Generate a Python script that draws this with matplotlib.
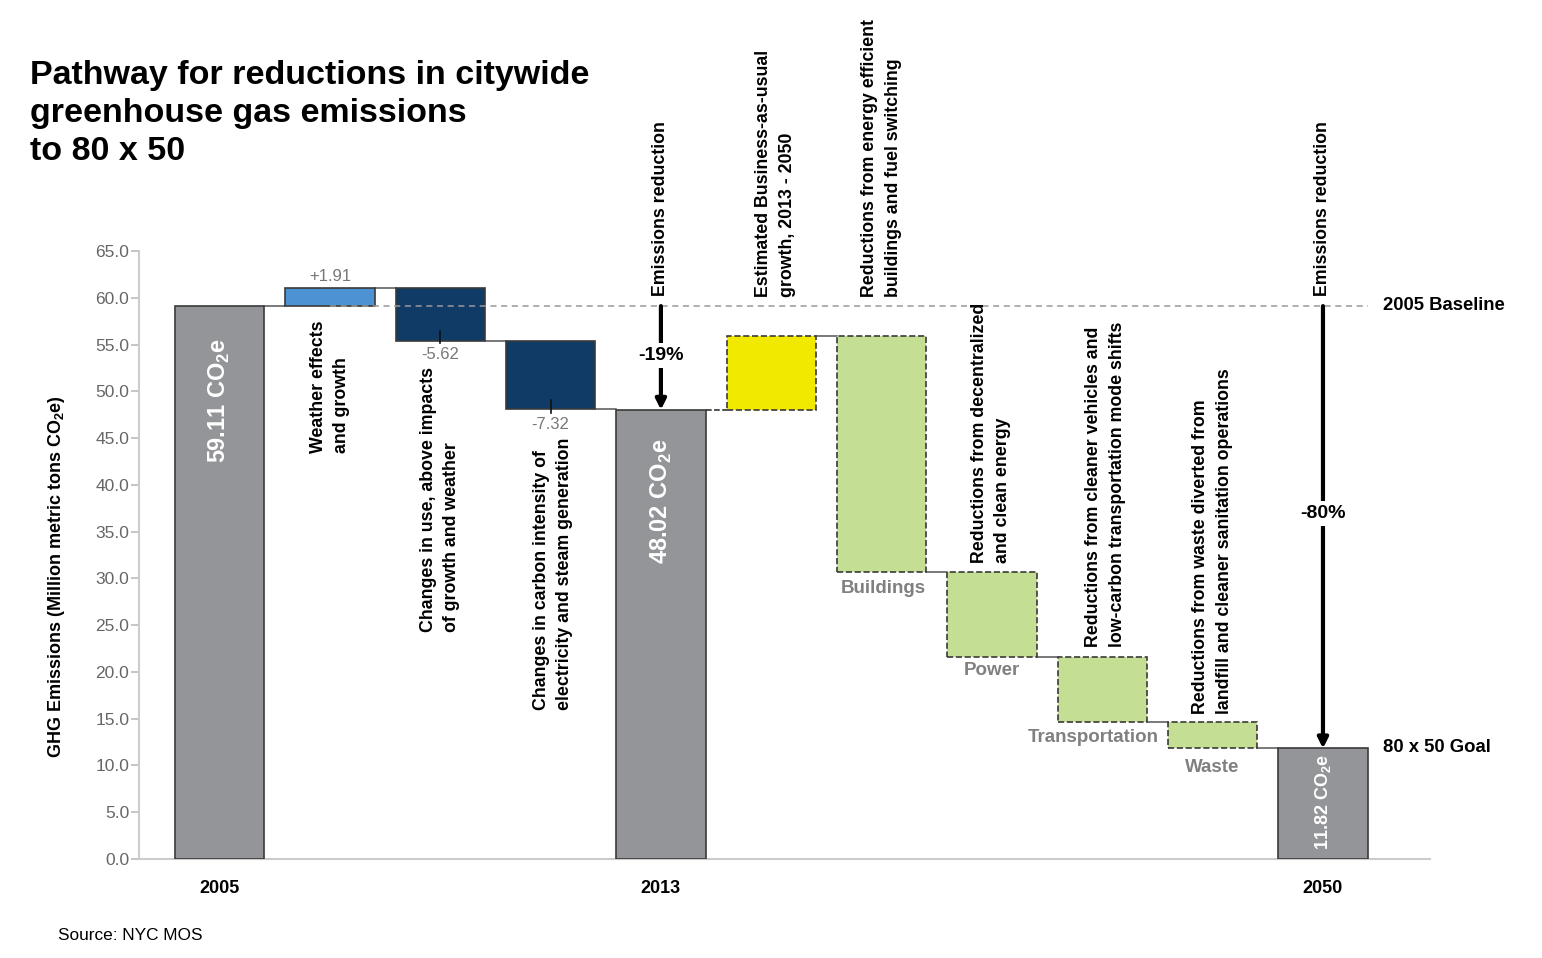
import matplotlib
matplotlib.use("Agg")
import matplotlib.pyplot as plt

plt.rcParams['font.family'] = ['Liberation Sans', 'DejaVu Sans']
plt.rcParams['mathtext.fontset'] = 'custom'
plt.rcParams['mathtext.rm'] = 'Liberation Sans'
plt.rcParams['mathtext.bf'] = 'Liberation Sans:bold'

# ---- data ----
categories = ['2005', 'Weather', 'Use changes', 'Carbon intensity', '2013',
              'BAU growth', 'Buildings', 'Power', 'Transportation', 'Waste', '2050']
values = [59.11, 1.91, -5.62, -7.32, 48.02, 7.93, -25.27, -9.08, -7.00, -2.78, 11.82]
is_total = [True, False, False, False, True, False, False, False, False, False, True]
year_labels = ['2005', '2013', '2050']
year_positions = [0, 4, 10]
value_labels = ['+1.91', '-5.62', '-7.32']
sector_labels = ['Buildings', 'Power', 'Transportation', 'Waste']
baseline = 59.11
goal = 11.82
yticks = [0, 5, 10, 15, 20, 25, 30, 35, 40, 45, 50, 55, 60, 65]

colors = ['#939598', '#4d92d2', '#0f3b66', '#0f3b66', '#939598',
          '#f2e900', '#c4df94', '#c4df94', '#c4df94', '#c4df94', '#939598']
dashed = [False, False, False, False, False, True, True, True, True, True, False]

fig = plt.figure(figsize=(15.42, 9.58), dpi=100)
ax = fig.add_axes([139/1542, 1-859/958, (1430-139)/1542, 608/958])

# compute waterfall
bottoms, tops, levels = [], [], []
running = 0.0
for v, t in zip(values, is_total):
    if t:
        b, tp = 0.0, v
        running = v
    else:
        start = running
        running = running + v
        b, tp = min(start, running), max(start, running)
    bottoms.append(b)
    tops.append(tp)
    levels.append(running)

w = 0.81
for i in range(len(values)):
    ax.bar(i, tops[i]-bottoms[i], bottom=bottoms[i], width=w, color=colors[i],
           edgecolor='#3a3a3a', linewidth=1.2,
           linestyle='--' if dashed[i] else '-', zorder=3)

# connectors
for i in range(len(values)-1):
    lvl = levels[i]
    ls = '--' if i == 4 else '-'
    col = '#222222' if i == 4 else '#555555'
    ax.plot([i + w/2, i + 1 - w/2], [lvl, lvl], color=col, lw=1.1, ls=ls, zorder=2)

# baseline dashed line
ax.plot([1.0, 10 + w/2], [baseline, baseline], color='#999999', lw=1.1,
        ls=(0, (4, 3)), zorder=4)

ax.set_xlim(-0.73, 10.97)
ax.set_ylim(0, 65)
ax.set_yticks(yticks)
ax.set_yticklabels([f'{t:.1f}' for t in yticks], color='#666666', fontsize=12.5)
ax.tick_params(axis='y', colors='#bbbbbb', length=6, width=1.2, pad=1, labelcolor='#666666')
ax.set_xticks(year_positions)
ax.set_xticklabels(year_labels, fontsize=13, fontweight='bold')
ax.tick_params(axis='x', length=0, pad=15)
for s in ['top', 'right']:
    ax.spines[s].set_visible(False)
ax.spines['left'].set_color('#cccccc')
ax.spines['left'].set_linewidth(1.5)
ax.spines['bottom'].set_color('#cccccc')
ax.spines['bottom'].set_linewidth(1.5)

# value labels
ax.text(1, 62.3, value_labels[0], ha='center', va='center', color='#777777', fontsize=12)
ax.plot([2, 2], [56.5, 55.2], color='#111111', lw=1.2, zorder=5)
ax.text(2, 53.9, value_labels[1], ha='center', va='center', color='#777777', fontsize=12)
ax.plot([3, 3], [49.1, 47.7], color='#111111', lw=1.2, zorder=5)
ax.text(3, 46.5, value_labels[2], ha='center', va='center', color='#777777', fontsize=12)

# bar inner labels
ax.text(0, 49.0, r'59.11 CO$_\mathbf{2}$e', rotation=90, ha='center', va='center',
        color='white', fontsize=17, fontweight='bold', zorder=6)
ax.text(4, 38.2, r'48.02 CO$_\mathbf{2}$e', rotation=90, ha='center', va='center',
        color='white', fontsize=17, fontweight='bold', zorder=6)
ax.text(10, 6.1, r'11.82 CO$_\mathbf{2}$e', rotation=90, ha='center', va='center',
        color='white', fontsize=13, fontweight='bold', zorder=6)

# sector labels
sector_pos = [(6.02, 28.9), (7.0, 20.1), (7.92, 13.0), (9.0, 9.8)]
for lab, (x, y) in zip(sector_labels, sector_pos):
    ax.text(x, y, lab, ha='center', va='center', color='#808080', fontsize=13.5,
            fontweight='bold')

# rotated descriptions
rot_kw = dict(rotation=90, fontsize=12.8, fontweight='bold', color='black',
              multialignment='left', linespacing=1.5, clip_on=False, zorder=6)
ax.text(1.0, 57.6, 'Weather effects\nand growth', ha='center', va='top', **rot_kw)
ax.text(2.0, 52.6, 'Changes in use, above impacts\nof growth and weather', ha='center', va='top', **rot_kw)
ax.text(3.02, 45.1, 'Changes in carbon intensity of\nelectricity and steam generation', ha='center', va='top', **rot_kw)
ax.text(4.0, 60.2, 'Emissions reduction', ha='center', va='bottom', **rot_kw)
ax.text(5.04, 60.1, 'Estimated Business-as-usual\ngrowth, 2013 - 2050', ha='center', va='bottom', **rot_kw)
ax.text(6.0, 60.1, 'Reductions from energy efficient\nbuildings and fuel switching', ha='center', va='bottom', **rot_kw)
ax.text(6.99, 31.6, 'Reductions from decentralized\nand clean energy', ha='center', va='bottom', **rot_kw)
ax.text(8.03, 22.7, 'Reductions from cleaner vehicles and\nlow-carbon transportation mode shifts', ha='center', va='bottom', **rot_kw)
ax.text(9.0, 15.5, 'Reductions from waste diverted from\nlandfill and cleaner sanitation operations', ha='center', va='bottom', **rot_kw)
ax.text(10.0, 60.2, 'Emissions reduction', ha='center', va='bottom', **rot_kw)

# reduction arrows
for x, top, bot, lab, ly in [(4, baseline, values[4], '-19%', 53.8),
                             (10, baseline, goal, '-80%', 36.9)]:
    ax.annotate('', xy=(x, bot), xytext=(x, top),
                arrowprops=dict(arrowstyle='-|>,head_length=0.6,head_width=0.3',
                                color='black', lw=3, shrinkA=0, shrinkB=0), zorder=7)
    ax.text(x, ly, lab, ha='center', va='center', fontsize=14, fontweight='bold',
            bbox=dict(facecolor='white', edgecolor='none', pad=3), zorder=8)

# right side labels
fig.text(1383/1542, 1-306/958, '2005 Baseline', ha='left', va='center',
         fontsize=13.3, fontweight='bold')
fig.text(1383/1542, 1-748/958, '80 x 50 Goal', ha='left', va='center',
         fontsize=13.3, fontweight='bold')

# y label
fig.text(57/1542, 1-577/958, r'GHG Emissions (Million metric tons CO$_\mathbf{2}$e)',
         rotation=90, ha='center', va='center', fontsize=13, fontweight='bold')

# title
fig.text(30/1542, 1-60/958, 'Pathway for reductions in citywide\ngreenhouse gas emissions\nto 80 x 50',
         ha='left', va='top', fontsize=24.5, fontweight='bold', linespacing=1.3)

# source
fig.text(58/1542, 1-935/958, 'Source: NYC MOS', ha='left', va='center', fontsize=12.4)

fig.savefig('out.png', dpi=100)
